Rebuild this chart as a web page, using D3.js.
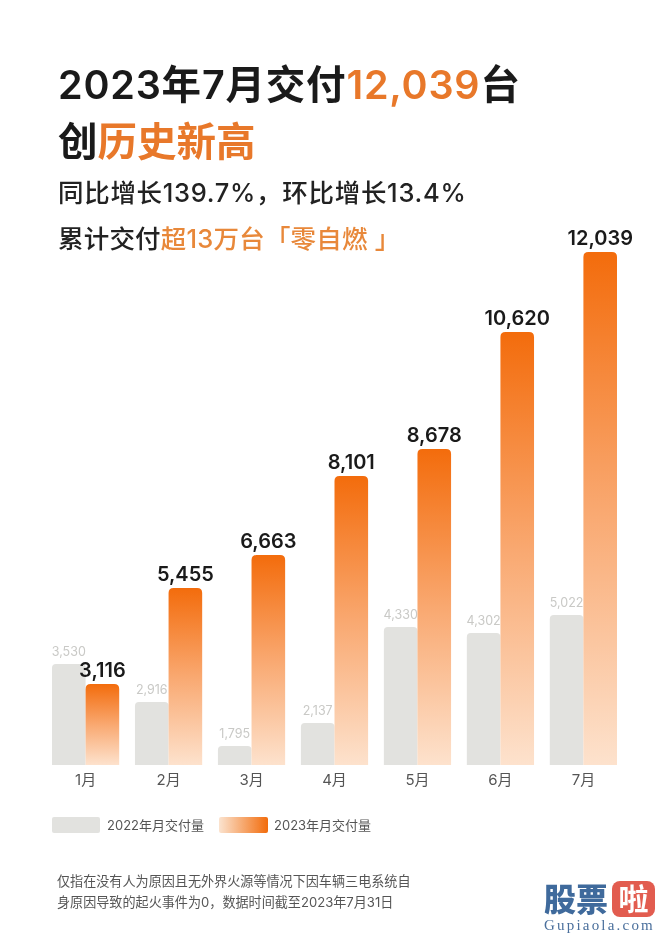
<!DOCTYPE html>
<html>
<head>
<meta charset="utf-8">
<script src="https://cdn.jsdelivr.net/npm/d3@7"></script>
<style>
  html, body { margin: 0; padding: 0; background: #fff; }
  text { font-family: Inter, "Noto Sans CJK SC", sans-serif; }
  svg { filter: blur(0.4px); }
</style>
</head>
<body>
<div id="chart"></div>
<script>
var months = ["1月", "2月", "3月", "4月", "5月", "6月", "7月"];
var series = ["2022年月交付量", "2023年月交付量"];
var values2022 = [3530, 2916, 1795, 2137, 4330, 4302, 5022];
var values2023 = [3116, 5455, 6663, 8101, 8678, 10620, 12039];

// the bars in the picture are not drawn to a linear scale, so the y scale
// goes through the stops (value -> bar height)
var scaleStops = [0, 1795, 2137, 2916, 3116, 3530, 4302, 4330, 5022, 5455, 6663, 8101, 8678, 10620, 12039];
var scaleHeights = [0, 19, 42, 63, 81, 101, 132, 138, 150, 177, 210, 289, 316, 433, 513];

var titleLines = [
  { y: 99, size: 39.5, weight: 600, spacing: 0.8, parts: [["2023年7月交付", "#1a1a1a"], ["12,039", "#e8782a"], ["台", "#1a1a1a"]] },
  { y: 156, size: 39.5, weight: 600, spacing: 0, parts: [["创", "#1a1a1a"], ["历史新高", "#e8782a"]] },
  { y: 202, size: 25.5, weight: 500, spacing: 0.7, parts: [["同比增长139.7%，环比增长13.4%", "#222"]] },
  { y: 248, size: 25.5, weight: 500, spacing: 0.2, parts: [["累计交付", "#222"], ["超13万台「零自燃 」", "#e8883a"]] }
];
var footnotes = [
  "仅指在没有人为原因且无外界火源等情况下因车辆三电系统自",
  "身原因导致的起火事件为0，数据时间截至2023年7月31日"
];

var WIDTH = 660, HEIGHT = 937, BASE_Y = 765;

var svg = d3.select("#chart").append("svg")
    .attr("width", WIDTH)
    .attr("height", HEIGHT)
    .style("display", "block");

var defs = svg.append("defs");
var barGrad = defs.append("linearGradient")
    .attr("id", "barGrad").attr("x1", 0).attr("y1", 0).attr("x2", 0).attr("y2", 1);
barGrad.append("stop").attr("offset", "0%").attr("stop-color", "#f36c0c");
barGrad.append("stop").attr("offset", "50%").attr("stop-color", "#f9a870");
barGrad.append("stop").attr("offset", "100%").attr("stop-color", "#fde2cd");
var legendGrad = defs.append("linearGradient")
    .attr("id", "legendGrad").attr("x1", 0).attr("y1", 0).attr("x2", 1).attr("y2", 0);
legendGrad.append("stop").attr("offset", "0%").attr("stop-color", "#fbe3cf");
legendGrad.append("stop").attr("offset", "100%").attr("stop-color", "#f26c0c");

var x = d3.scaleBand().domain(months).range([52, 617]).paddingInner(0.19).paddingOuter(0);
var x1 = d3.scaleBand().domain([0, 1]).range([0, x.bandwidth()]);
var h = d3.scaleLinear().domain(scaleStops).range(scaleHeights);

function topRounded(px, w, value, r) {
  var top = BASE_Y - h(value);
  return "M" + px + "," + BASE_Y + "V" + (top + r) +
      "Q" + px + "," + top + " " + (px + r) + "," + top +
      "H" + (px + w - r) +
      "Q" + (px + w) + "," + top + " " + (px + w) + "," + (top + r) +
      "V" + BASE_Y + "Z";
}

// headline
titleLines.forEach(function(line) {
  var t = svg.append("text")
      .attr("x", 58).attr("y", line.y)
      .attr("font-size", line.size).attr("font-weight", line.weight)
      .attr("letter-spacing", line.spacing);
  line.parts.forEach(function(p) {
    t.append("tspan").attr("fill", p[1]).text(p[0]);
  });
});

// 2022 bars and their labels sit under the 2023 bars
svg.selectAll(".bar2022").data(values2022).join("path")
    .attr("class", "bar2022")
    .attr("fill", "#e2e2df")
    .attr("d", function(d, i) { return topRounded(x(months[i]) + x1(0), x1.bandwidth(), d, 4); });
svg.selectAll(".label2022").data(values2022).join("text")
    .attr("class", "label2022")
    .attr("x", function(d, i) { return x(months[i]) + x1(0) + x1.bandwidth() / 2; })
    .attr("y", function(d) { return BASE_Y - h(d) - 8; })
    .attr("text-anchor", "middle")
    .attr("font-size", 12.5)
    .attr("fill", "#c9c9c6")
    .text(d3.format(","));

svg.selectAll(".bar2023").data(values2023).join("path")
    .attr("class", "bar2023")
    .attr("fill", "url(#barGrad)")
    .attr("d", function(d, i) { return topRounded(x(months[i]) + x1(1), x1.bandwidth(), d, 5); });
svg.selectAll(".label2023").data(values2023).join("text")
    .attr("class", "label2023")
    .attr("x", function(d, i) { return x(months[i]) + x1(1) + x1.bandwidth() / 2; })
    .attr("y", function(d) { return BASE_Y - h(d) - 7; })
    .attr("text-anchor", "middle")
    .attr("font-size", 20)
    .attr("font-weight", 600)
    .attr("fill", "#1a1a1a")
    .text(d3.format(","));

// month axis
var axis = svg.append("g")
    .attr("transform", "translate(0," + BASE_Y + ")")
    .call(d3.axisBottom(x).tickSize(0).tickPadding(9));
axis.select(".domain").remove();
axis.selectAll("text")
    .attr("font-size", 15)
    .attr("fill", "#555")
    .style("font-family", 'Inter, "Noto Sans CJK SC", sans-serif');

// legend
svg.append("rect").attr("x", 52).attr("y", 817).attr("width", 48).attr("height", 16).attr("rx", 2).attr("fill", "#e2e2df");
svg.append("rect").attr("x", 219).attr("y", 817).attr("width", 49).attr("height", 16).attr("rx", 2).attr("fill", "url(#legendGrad)");
svg.selectAll(".legendText").data(series).join("text")
    .attr("class", "legendText")
    .attr("x", function(d, i) { return i === 0 ? 107 : 274; })
    .attr("y", 830)
    .attr("font-size", 13)
    .attr("fill", "#555")
    .text(function(d) { return d; });

// footnote
svg.selectAll(".footnote").data(footnotes).join("text")
    .attr("class", "footnote")
    .attr("x", 57)
    .attr("y", function(d, i) { return 886 + i * 20.5; })
    .attr("font-size", 13.1)
    .attr("fill", "#555")
    .text(function(d) { return d; });

// watermark
svg.append("text").attr("x", 544).attr("y", 911)
    .attr("font-size", 32).attr("font-weight", 900).attr("fill", "#3f6a9c").text("股票");
svg.append("rect").attr("x", 612).attr("y", 881).attr("width", 43).attr("height", 36).attr("rx", 8).attr("fill", "#e25c4f");
svg.append("text").attr("x", 633.5).attr("y", 910)
    .attr("text-anchor", "middle")
    .attr("font-size", 30).attr("font-weight", 700).attr("fill", "#fff").text("啦");
svg.append("text").attr("x", 544).attr("y", 930)
    .attr("font-size", 15).attr("letter-spacing", 2.2)
    .style("font-family", '"Liberation Serif", serif')
    .attr("fill", "#4a6f9c").text("Gupiaola.com");
</script>
</body>
</html>
